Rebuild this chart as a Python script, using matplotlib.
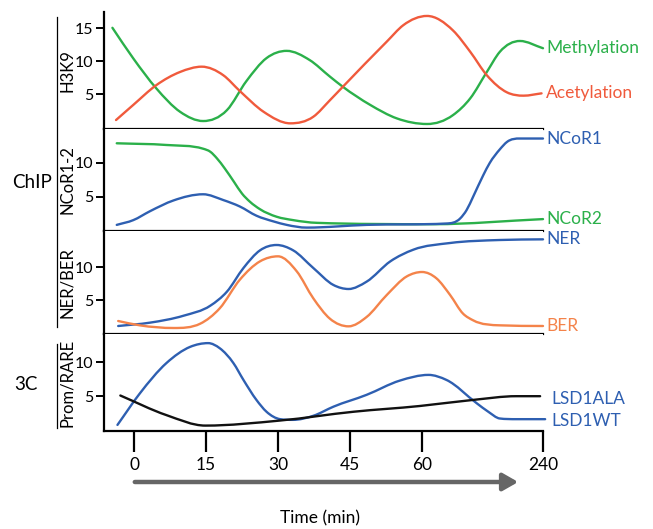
import matplotlib
matplotlib.use("Agg")
import matplotlib.pyplot as plt
import numpy as np
from matplotlib.path import Path
from matplotlib.patches import PathPatch, FancyArrowPatch

plt.rcParams['font.family'] = ['Lato', 'DejaVu Sans']

# time axis: evenly spaced slots, 240 min sits at the far right end
time_labels = ['0', '15', '30', '45', '60', '240']
time_pos = [0, 1, 2, 3, 4, 5.68]

# H3K9 panel
meth_x = [-0.30, -0.01, 0.31, 0.64, 0.96, 1.29, 1.56, 1.84, 2.12, 2.44, 2.72, 2.90,
          3.28, 3.65, 4.07, 4.43, 4.67, 4.90, 5.08, 5.36, 5.68]
meth_y = [15.1, 10.45, 5.9, 2.35, 0.95, 2.6, 7.0, 10.5, 11.6, 10.2, 7.7, 6.15,
          3.4, 1.35, 0.5, 1.85, 4.4, 8.4, 11.45, 13.1, 12.0]
acet_x = [-0.25, -0.01, 0.31, 0.64, 0.94, 1.24, 1.47, 1.80, 2.17, 2.49, 2.72, 2.90,
          3.51, 3.74, 4.07, 4.43, 4.67, 4.90, 5.18, 5.41, 5.66]
acet_y = [1.1, 3.4, 6.4, 8.4, 9.2, 7.9, 5.5, 2.35, 0.6, 1.6, 4.1, 6.15,
          13.0, 15.5, 16.9, 14.7, 11.45, 7.9, 5.3, 4.8, 5.15]

# NCoR1-2 panel
ncor2_x = [-0.24, 0.45, 0.96, 1.06, 1.15, 1.26, 1.39, 1.50, 1.61, 1.75, 1.98, 2.21,
           2.54, 4.16, 5.68]
ncor2_y = [12.9, 12.65, 12.1, 11.65, 10.7, 9.2, 7.2, 5.5, 4.3, 3.2, 2.1, 1.6,
           1.2, 1.0, 1.75]
ncor1_x = [-0.24, -0.01, 0.22, 0.55, 0.96, 1.24, 1.47, 1.70, 1.94, 2.12, 2.40, 3.23,
           4.34, 4.53, 4.62, 4.71, 4.85, 4.94, 5.08, 5.18, 5.36, 5.68]
ncor1_y = [0.9, 1.6, 2.9, 4.5, 5.4, 4.55, 3.6, 2.25, 1.4, 0.9, 0.5, 0.9,
           1.1, 1.85, 3.1, 5.05, 8.2, 10.0, 12.0, 13.1, 13.6, 13.6]

# NER/BER panel
ner_x = [-0.22, 0.22, 0.69, 1.06, 1.29, 1.52, 1.75, 1.98, 2.21, 2.49, 2.77, 2.98,
         3.23, 3.56, 3.88, 4.39, 5.08, 5.68]
ner_y = [1.15, 1.65, 2.7, 4.2, 6.3, 9.85, 12.5, 13.3, 12.5, 9.85, 7.3, 6.7,
         7.8, 10.85, 12.6, 13.6, 14.05, 14.15]
ber_x = [-0.22, 0.08, 0.55, 0.92, 1.19, 1.47, 1.75, 2.00, 2.26, 2.49, 2.72, 2.98,
         3.23, 3.51, 3.79, 4.00, 4.20, 4.39, 4.57, 4.71, 5.08, 5.68]
ber_y = [1.9, 1.25, 0.85, 1.5, 3.8, 8.1, 10.85, 11.6, 9.35, 5.3, 2.25, 1.1,
         2.5, 5.8, 8.6, 9.25, 8.3, 5.8, 3.0, 2.0, 1.25, 1.15]

# Prom/RARE panel
wt_x = [-0.23, 0.08, 0.45, 0.78, 1.03, 1.19, 1.38, 1.52, 1.70, 1.84, 2.03, 2.21,
        2.49, 2.77, 3.23, 3.69, 4.09, 4.34, 4.76, 4.92, 5.08, 5.31, 5.71]
wt_y = [0.75, 5.4, 9.9, 12.3, 12.85, 12.1, 9.9, 7.4, 4.45, 2.7, 1.6, 1.5,
        2.1, 3.45, 5.2, 7.3, 8.15, 7.4, 3.95, 2.7, 1.7, 1.6, 1.6]
ala_x = [-0.19, 0.45, 0.99, 2.03, 3.05, 3.97, 4.71, 5.31, 5.64]
ala_y = [5.1, 2.2, 0.65, 1.4, 2.7, 3.55, 4.45, 5.0, 5.0]

GREEN = '#2bb04a'
RED = '#f05a3c'
BLUE = '#2e5fb1'
ORANGE = '#f4834a'
BLACK = '#111111'


def smooth(ax, xs, ys, color):
    # cubic Hermite through the points (flat at turning points, slopes
    # clamped so nothing overshoots), drawn as Bezier segments
    x = np.asarray(xs, float)
    y = np.asarray(ys, float)
    h = np.diff(x)
    d = np.diff(y) / h
    m = np.zeros_like(y)
    m[0], m[-1] = d[0], d[-1]
    for i in range(1, len(y) - 1):
        if d[i - 1] * d[i] > 0:
            s = (h[i] * d[i - 1] + h[i - 1] * d[i]) / (h[i - 1] + h[i])
            lim = 3 * min(abs(d[i - 1]), abs(d[i]))
            m[i] = np.sign(s) * min(abs(s), lim)
    verts = [(x[0], y[0])]
    codes = [Path.MOVETO]
    for i in range(len(h)):
        verts += [(x[i] + h[i] / 3, y[i] + m[i] * h[i] / 3),
                  (x[i + 1] - h[i] / 3, y[i + 1] - m[i + 1] * h[i] / 3),
                  (x[i + 1], y[i + 1])]
        codes += [Path.CURVE4] * 3
    ax.add_patch(PathPatch(Path(verts, codes), fill=False, edgecolor=color,
                           lw=1.7, clip_on=False, capstyle='round'))


fig = plt.figure(figsize=(6.53, 5.29), dpi=100)
W, H = 653, 529


def panel(top, bottom, ylim):
    ax = fig.add_axes([104 / W, 1 - bottom / H, 439 / W, (bottom - top) / H])
    ax.set_xlim(-0.417, 5.68)
    ax.set_ylim(*ylim)
    for s in ['top', 'right']:
        ax.spines[s].set_visible(False)
    for s in ['left', 'bottom']:
        ax.spines[s].set_linewidth(1.6)
    ax.set_yticks([5, 10] if ylim[1] < 16 else [5, 10, 15])
    ax.tick_params(axis='y', direction='out', length=6, width=1.4, labelsize=11.5, pad=2)
    ax.set_xticks([])
    return ax


ax1 = panel(12, 129, (-0.26, 17.5))
ax2 = panel(129, 231, (0, 15.0))
ax3 = panel(231, 334, (-0.05, 15.4))
ax4 = panel(334, 431, (-0.15, 14.2))

smooth(ax1, meth_x, meth_y, GREEN)
smooth(ax1, acet_x, acet_y, RED)
smooth(ax2, ncor2_x, ncor2_y, GREEN)
smooth(ax2, ncor1_x, ncor1_y, BLUE)
smooth(ax3, ner_x, ner_y, BLUE)
smooth(ax3, ber_x, ber_y, ORANGE)
smooth(ax4, wt_x, wt_y, BLUE)
smooth(ax4, ala_x, ala_y, BLACK)

ax4.set_xticks(time_pos)
ax4.set_xticklabels(time_labels)
ax4.tick_params(axis='x', direction='out', length=15, width=1.6, labelsize=12.5, pad=4)

ylabels = [(ax1, 'H3K9'), (ax2, 'NCoR1-2'), (ax3, 'NER/BER'), (ax4, 'Prom/RARE')]
for ax, lab in ylabels:
    ax.set_ylabel(lab, fontsize=12, va='center')
    ax.yaxis.set_label_coords(-37 / 439, 0.5)

# series names at the right end of each curve
right = [
    (ax1, meth_y[-1], 'Methylation', GREEN, 0),
    (ax1, acet_y[-1], 'Acetylation', RED, 0),
    (ax2, ncor1_y[-1], 'NCoR1', BLUE, 0),
    (ax2, ncor2_y[-1], 'NCoR2', GREEN, 0),
    (ax3, ner_y[-1], 'NER', BLUE, 0),
    (ax3, ber_y[-1], 'BER', ORANGE, 0),
    (ax4, ala_y[-1] - 0.4, 'LSD1ALA', BLUE, 0.08),
    (ax4, wt_y[-1] - 0.2, 'LSD1WT', BLUE, 0.08),
]
for ax, y, txt, c, dx in right:
    ax.text(5.72 + dx, y, txt, color=c, fontsize=12.5, va='center', ha='left', clip_on=False)

# assay group brackets
fig.add_artist(plt.Line2D([57 / W, 57 / W], [1 - 17 / H, 1 - 327 / H], color='black', lw=0.9))
fig.add_artist(plt.Line2D([57 / W, 57 / W], [1 - 344 / H, 1 - 428 / H], color='black', lw=0.9))
fig.text(32 / W, 1 - 182 / H, 'ChIP', fontsize=13.5, ha='center', va='center')
fig.text(26 / W, 1 - 385 / H, '3C', fontsize=13.5, ha='center', va='center')

# time arrow
fig.add_artist(FancyArrowPatch(
    (132 / W, 1 - 482 / H), (521 / W, 1 - 482 / H), transform=fig.transFigure,
    arrowstyle='-|>,head_length=7,head_width=4', mutation_scale=1.3,
    color='#666666', lw=3.2))
fig.text(320 / W, 1 - 518 / H, 'Time (min)', fontsize=12.5, ha='center', va='center')

fig.savefig('out.png', dpi=100)
